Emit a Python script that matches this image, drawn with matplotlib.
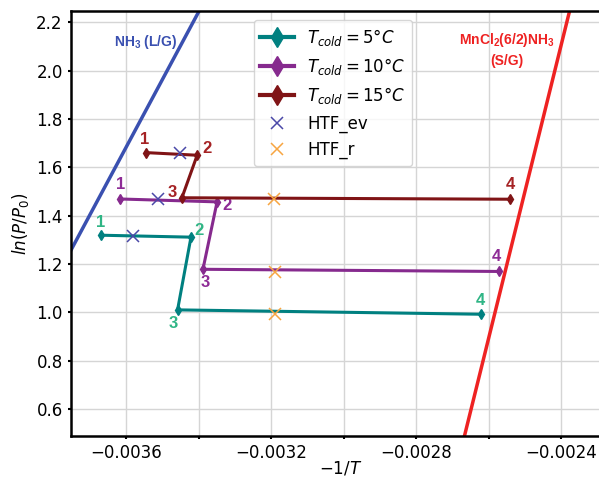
import numpy as np
import matplotlib
matplotlib.use("Agg")
import matplotlib.pyplot as plt
from matplotlib.ticker import MultipleLocator

# cycle points 1..4 for each cold temperature (x = -1/T, y = ln(P/P0))
t5_x = [-0.003669, -0.003421, -0.003458, -0.002622]
t5_y = [1.319, 1.311, 1.010, 0.992]
t10_x = [-0.003617, -0.003349, -0.003388, -0.002571]
t10_y = [1.469, 1.457, 1.178, 1.169]
t15_x = [-0.003546, -0.003404, -0.003446, -0.002541]
t15_y = [1.661, 1.650, 1.474, 1.468]

# heat transfer fluid points
htf_ev_x = [-0.003580, -0.003511, -0.003451]
htf_ev_y = [1.317, 1.467, 1.660]
htf_r_x = [-0.003189, -0.003189, -0.003192]
htf_r_y = [0.993, 1.168, 1.467]

# equilibrium lines (end points)
nh3_x = [-0.0038, -0.0033]
nh3_y = [1.123, 2.523]
mncl_x = [-0.0027, -0.0023]
mncl_y = [0.285, 2.711]

labels = ['$T_{cold} = 5°C$', '$T_{cold} = 10°C$', '$T_{cold} = 15°C$']
point_names = ['1', '2', '3', '4']

fig = plt.figure(figsize=(5.99, 4.78), dpi=100)
ax = fig.add_axes([71/599, 42/478, (610-71)/599, (436-11)/478])

series = [
    (t5_x, t5_y, 'teal', '#2fb585', [(0, 9), (6, 4.5), (-3.3, -9.6), (0, 9.6)]),
    (t10_x, t10_y, '#862a8e', '#8e2c96', [(0.7, 10.4), (7, -2.4), (1.4, -9.6), (-2.2, 11)]),
    (t15_x, t15_y, '#801416', '#a52224', [(-1, 9.6), (7, 4.8), (-7, 4.1), (0, 10.6)]),
]

for (xs, ys, c, tc, offs), lab in zip(series, labels):
    ax.plot(xs, ys, color=c, lw=2.2, marker='d', ms=5, label=lab, zorder=3)
    for x, y, name, off in zip(xs, ys, point_names, offs):
        ax.annotate(name, (x, y), xytext=off, textcoords='offset points',
                    ha='center', va='center', color=tc, fontsize=12,
                    fontweight='bold', family='Liberation Sans')

ax.plot(htf_ev_x, htf_ev_y, ls='none', marker='x', ms=9, mew=1.1,
        color='#4a48a8', label='HTF_ev', zorder=4)
ax.plot(htf_r_x, htf_r_y, ls='none', marker='x', ms=9, mew=1.1,
        color='#f7a541', label='HTF_r', zorder=4)

ax.plot(nh3_x, nh3_y, color='#3a50b0', lw=2.5, zorder=2)
ax.plot(mncl_x, mncl_y, color='#ee2222', lw=2.5, zorder=2)

ax.text(-0.003545, 2.118, 'NH$_\\mathregular{3}$ (L/G)', color='#3a50b0',
        fontsize=10, fontweight='bold', family='Liberation Sans',
        ha='center', va='center')
ax.text(-0.002550, 2.088, 'MnCl$_\\mathregular{2}$(6/2)NH$_\\mathregular{3}$\n(S/G)',
        color='#ee2222', fontsize=10, fontweight='bold',
        family='Liberation Sans', ha='center', va='center', linespacing=1.45)

ax.set_xlim(-0.003752, -0.002265)
ax.set_ylim(0.488, 2.247)
ax.xaxis.set_major_locator(MultipleLocator(0.0004))
ax.xaxis.set_minor_locator(MultipleLocator(0.0002))
ax.yaxis.set_major_locator(MultipleLocator(0.2))
ax.grid(True, which='both', color='#d5d5d5', lw=1)
ax.set_axisbelow(True)
ax.tick_params(which='both', length=2.5, width=1.5, labelsize=12)

for s in ax.spines.values():
    s.set_linewidth(1.8)

ax.set_xlabel('$-1/T$', fontsize=12, labelpad=-2)
ax.set_ylabel('$ln(P/P_0)$', fontsize=12)

leg = ax.legend(loc='upper left', bbox_to_anchor=(0.339, 0.979),
                borderaxespad=0, fontsize=12, handlelength=2.0)
for h in leg.legend_handles[:3]:
    h.set_markersize(10)
    h.set_linewidth(3)

fig.savefig('out.png', dpi=100)
